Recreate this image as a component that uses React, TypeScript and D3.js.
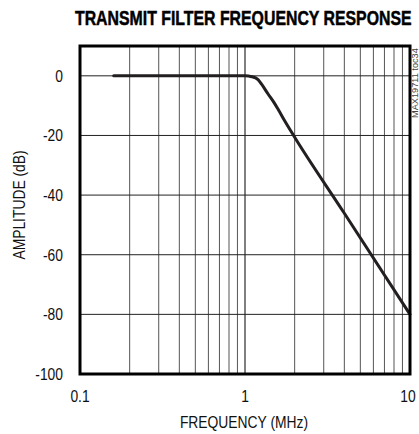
import React from "react";
import * as d3 from "d3";

const W = 419;
const H = 434;

// Measured curve (frequency in MHz, amplitude in dB)
const freqMHz = [0.16, 0.3, 0.5, 0.8, 1.0, 1.1, 1.2, 1.26, 1.38, 1.5, 1.59, 1.75, 1.97, 4.0, 10];
const ampDb = [0, 0, 0, 0, 0, -0.3, -1.3, -2.8, -6.1, -9, -11.3, -15.3, -20, -46.1, -80];

const xTickValues = [0.1, 1, 10];
const xTickLabels = ["0.1", "1", "10"];
const yTickValues = [0, -20, -40, -60, -80, -100];
const yTickLabels = ["0", "-20", "-40", "-60", "-80", "-100"];

const title = "TRANSMIT FILTER FREQUENCY RESPONSE";
const xTitle = "FREQUENCY (MHz)";
const yTitle = "AMPLITUDE (dB)";
const watermark = "MAX19711 toc34";

const font = "'Liberation Sans', Arial, sans-serif";
const SX = 0.84;

function NText(props: {
  x: number;
  y: number;
  anchor?: "start" | "middle" | "end";
  rotate?: number;
  size?: number;
  fill?: string;
  children: React.ReactNode;
}) {
  const { x, y, anchor = "start", rotate = 0, size = 16.5, fill = "#111", children } = props;
  return (
    <text
      transform={`translate(${x},${y}) rotate(${rotate}) scale(${SX},1)`}
      textAnchor={anchor}
      fontFamily={font}
      fontSize={size}
      fill={fill}
    >
      {children}
    </text>
  );
}

export default function App() {
  const m = { left: 80, right: 410, top: 46, bottom: 374 };
  const x = d3.scaleLog().domain([0.1, 10]).range([m.left, m.right]);
  const y = d3.scaleLinear().domain([-100, 10]).range([m.bottom, m.top]);

  const minor: number[] = [];
  [0.1, 1].forEach((d) => {
    for (let k = 1; k <= 9; k++) minor.push(d * k);
  });
  minor.push(10);

  const line = d3
    .line<number>()
    .x((_, i) => x(freqMHz[i]))
    .y((d) => y(d))
    .curve(d3.curveMonotoneX);

  return (
    <svg
      width={W}
      height={H}
      style={{ position: "absolute", left: 0, top: 0, background: "#fff" }}
    >
      <rect x={0} y={0} width={W} height={H} fill="#fff" />
      <text
        transform="translate(75,25) scale(0.755,1)"
        fontFamily={font}
        fontWeight="bold"
        fontSize={21}
        fill="#000"
        stroke="#000"
        strokeWidth={0.5}
      >
        {title}
      </text>

      {/* vertical grid */}
      {minor.map((f, i) => (
        <line
          key={"v" + i}
          x1={x(f)}
          x2={x(f)}
          y1={m.top}
          y2={m.bottom}
          stroke={f === 1 ? "#000" : "#555"}
          strokeWidth={1}
        />
      ))}
      {/* horizontal grid */}
      {yTickValues.map((v, i) => (
        <line
          key={"h" + i}
          x1={m.left}
          x2={m.right}
          y1={y(v)}
          y2={y(v)}
          stroke="#222"
          strokeWidth={1}
        />
      ))}

      <path
        d={line(ampDb) || ""}
        fill="none"
        stroke="#231f20"
        strokeWidth={3}
        strokeLinejoin="round"
        strokeLinecap="round"
      />

      <rect
        x={m.left}
        y={m.top}
        width={m.right - m.left}
        height={m.bottom - m.top}
        fill="none"
        stroke="#000"
        strokeWidth={3}
      />

      {yTickValues.map((v, i) => (
        <NText key={"yl" + i} x={63} y={y(v) + 6} anchor="end">
          {yTickLabels[i]}
        </NText>
      ))}
      {xTickValues.map((v, i) => (
        <NText key={"xl" + i} x={i === 2 ? x(v) - 2 : x(v)} y={402} anchor="middle">
          {xTickLabels[i]}
        </NText>
      ))}

      <NText x={244} y={428} anchor="middle">
        {xTitle}
      </NText>
      <NText x={25} y={205} anchor="middle" rotate={-90}>
        {yTitle}
      </NText>
      <text
        transform={`translate(418,118) rotate(-90)`}
        fontFamily={font}
        fontSize={9.2}
        fill="#444"
      >
        {watermark}
      </text>
    </svg>
  );
}
